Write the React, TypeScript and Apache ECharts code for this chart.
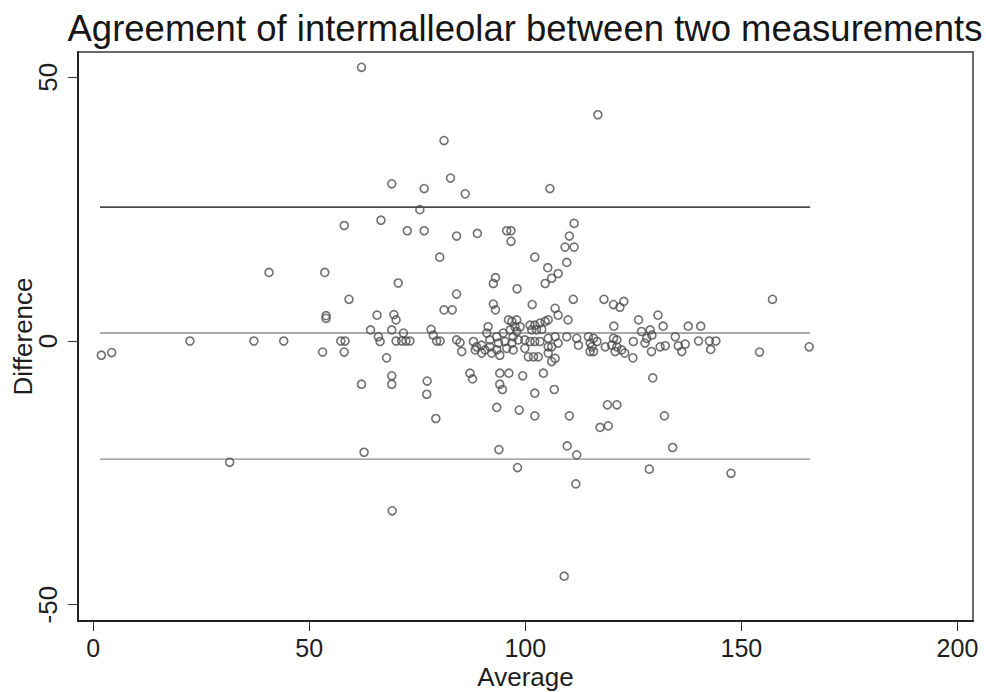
import React, { useEffect, useRef } from "react";
import * as echarts from "echarts";

const titleText = "Agreement of intermalleolar between two measurements";
const xAxisName = "Average";
const yAxisName = "Difference";
const xTickValues = [0, 50, 100, 150, 200];
const yTickValues = [-50, 0, 50];

const averageValues = [
  1.9, 4.3, 22.4, 31.6, 37.2, 40.7, 44.1, 53.1, 53.6, 53.9, 53.9, 57.3, 58.3, 58.1, 58.1, 59.2, 62.1, 62.1, 62.7, 64.2,
  65.7, 66.0, 66.4, 66.6, 67.9, 69.1, 69.1, 69.6, 70.1, 69.1, 69.1, 69.2, 70.1, 71.4, 72.4, 73.3, 70.6, 71.8, 72.7, 75.6,
  76.6, 76.6, 77.3, 77.2, 78.2, 78.7, 79.5, 80.3, 79.3, 80.2, 81.2, 81.2, 83.1, 82.7, 84.1, 84.1, 84.1, 84.9, 85.3, 86.1,
  87.2, 87.8, 88.0, 88.7, 88.4, 88.9, 89.9, 90.7, 89.9, 91.4, 91.1, 91.8, 91.8, 92.2, 92.6, 93.1, 93.1, 92.6, 93.4, 93.8,
  93.4, 94.1, 94.1, 94.1, 94.7, 93.4, 93.9, 94.9, 95.3, 95.7, 95.7, 96.7, 96.7, 96.1, 96.9, 96.5, 97.2, 96.9, 97.2, 96.2,
  97.6, 98.0, 98.8, 98.0, 98.4, 98.1, 98.2, 98.6, 99.4, 99.9, 99.9, 100.7, 101.1, 101.5, 101.6, 101.1, 101.9, 102.2, 102.6, 102.2,
  102.2, 102.2, 102.2, 103.0, 103.4, 103.8, 103.4, 104.2, 104.6, 104.6, 105.3, 105.3, 105.3, 105.3, 105.2, 105.7, 106.1, 106.1, 106.1, 106.9,
  106.9, 106.9, 107.6, 107.6, 107.6, 106.7, 109.2, 109.6, 109.9, 109.6, 109.0, 109.7, 110.2, 110.2, 111.1, 111.3, 111.3, 111.9, 112.3, 111.9,
  111.7, 114.6, 115.0, 115.0, 115.8, 116.6, 115.4, 115.8, 116.8, 117.3, 118.2, 118.5, 119.2, 119.0, 120.4, 120.5, 120.4, 121.2, 120.0, 121.2,
  120.8, 121.2, 121.9, 122.8, 122.3, 123.0, 124.9, 125.0, 126.2, 126.9, 127.7, 128.1, 128.9, 129.3, 129.2, 129.5, 128.7, 130.7, 131.9, 131.2,
  132.4, 132.2, 134.7, 134.1, 135.4, 136.2, 137.0, 137.7, 140.6, 140.1, 142.6, 144.1, 142.9, 147.6, 154.2, 157.2, 165.7,
];

const differenceValues = [
  -2.7, -2.2, 0, -23.0, 0, 13.0, 0, -2.1, 13.0, 4.3, 4.8, 0, 0, -2.1, 21.9, 7.9, 51.9, -8.2, -21.1, 2.1,
  4.9, 0.8, -0.1, 22.9, -3.2, 29.8, 2.1, 5.0, 4.0, -6.6, -8.2, -32.2, 0, 0, 0, 0, 11.0, 1.5, 20.9, 24.9,
  28.9, 20.9, -7.6, -10.1, 2.2, 1.1, 0, 0, -14.7, 15.9, 38.0, 5.9, 5.9, 30.9, 19.9, 8.9, 0.2, -0.3, -2.0, 27.9,
  -6.1, -7.2, -0.1, -1.1, -1.7, 20.4, -0.8, -1.7, -2.3, 2.7, 1.5, 0.2, -1.1, -2.3, 7.0, 5.9, 12.0, 10.9, 0.8, -0.4,
  -1.7, -2.7, -6.1, -8.2, -9.2, -12.6, -20.6, 1.5, -0.1, -1.4, 20.9, 20.9, 18.9, 4.0, 3.7, 2.1, 0.8, -0.4, -1.7, -6.1,
  2.7, 4.0, 2.7, 1.8, 0.2, 9.9, -24.0, -13.1, -6.6, 0.2, -1.4, -3.0, 3.0, 2.1, 6.9, -0.1, -3.0, 3.0, 2.1, -0.1,
  15.9, -9.9, -14.2, -3.0, 3.4, 2.2, -0.1, -6.1, 3.7, 10.9, 4.0, 0.5, -1.1, -2.3, 13.9, 28.9, 11.9, -1.1, -3.9, -3.3,
  6.2, 0.8, 4.9, -0.4, 12.8, -9.2, 17.8, 14.9, 4.0, 0.8, -44.6, -19.9, 19.9, -14.2, 7.9, 22.3, 17.8, 0.5, -0.8, -21.6,
  -27.1, 0.8, -0.4, -2.0, 0.5, -0.1, -1.1, -2.0, 42.9, -16.4, 7.9, -1.1, -16.1, -12.1, 6.9, 2.8, 0.5, 0.2, -0.8, -1.1,
  -2.0, -12.1, 6.4, 7.5, -1.7, -2.3, -3.2, -0.1, 4.0, 1.8, -0.4, 0.5, 2.1, 1.1, -2.0, -7.0, -24.3, 4.9, 2.8, -1.1,
  -0.9, -14.2, 0.8, -20.2, -0.9, -2.0, -0.6, 2.8, 2.8, 0, 0, 0, -1.6, -25.1, -2.1, 7.9, -1.1,
];

const meanDifference = 1.5;
const upperLimit = 25.4;
const lowerLimit = -22.4;

const FONT = '"Liberation Sans", Arial, sans-serif';

export default function App() {
  const ref = useRef<HTMLDivElement>(null);

  useEffect(() => {
    if (!ref.current) return;
    const chart = echarts.init(ref.current, null, { renderer: "svg" });
    const points = averageValues.map((a, i) => [a, differenceValues[i]]);
    const xLo = Math.min(...averageValues) - 0.3;
    const xHi = Math.max(...averageValues) + 0.2;
    const hLine = (v: number, color: string, width: number) => ({
      type: "line",
      data: [
        [xLo, v],
        [xHi, v],
      ],
      symbol: "none",
      silent: true,
      lineStyle: { color, width },
      z: 1,
    });

    chart.setOption({
      animation: false,
      backgroundColor: "#ffffff",
      graphic: [
        {
          type: "text",
          x: 525,
          y: 28,
          style: {
            text: titleText,
            font: `36.5px ${FONT}`,
            fill: "#161616",
            textAlign: "center",
            textVerticalAlign: "middle",
          },
        },
      ],
      grid: {
        left: 78,
        top: 52,
        right: 13,
        bottom: 71,
        show: true,
        borderColor: "#6a6a6a",
        borderWidth: 2,
        backgroundColor: "#ffffff",
        containLabel: false,
        outerBoundsMode: "none",
      },
      xAxis: {
        type: "value",
        min: -3.5,
        max: 203.6,
        name: xAxisName,
        nameLocation: "middle",
        nameGap: 46,
        nameMoveOverlap: false,
        nameTextStyle: { fontSize: 26, lineHeight: 20, color: "#1e1e1e", fontFamily: FONT },
        axisLine: { show: true, onZero: false, lineStyle: { color: "#222", width: 2 } },
        axisTick: {
          show: true,
          customValues: xTickValues,
          length: 10,
          lineStyle: { color: "#333", width: 1 },
        },
        axisLabel: {
          customValues: xTickValues,
          fontSize: 25,
          lineHeight: 20,
          color: "#1e1e1e",
          fontFamily: FONT,
          margin: 17,
        },
        splitLine: { show: false },
      },
      yAxis: {
        type: "value",
        min: -53.1,
        max: 54.8,
        name: yAxisName,
        nameLocation: "middle",
        nameGap: 42,
        nameMoveOverlap: false,
        nameRotate: 90,
        nameTextStyle: { fontSize: 26, color: "#1e1e1e", fontFamily: FONT },
        axisLine: { show: true, onZero: false, lineStyle: { color: "#222", width: 2 } },
        axisTick: {
          show: true,
          customValues: yTickValues,
          length: 10,
          lineStyle: { color: "#333", width: 1 },
        },
        axisLabel: {
          customValues: yTickValues,
          rotate: 90,
          fontSize: 26,
          color: "#1e1e1e",
          fontFamily: FONT,
          margin: 17,
        },
        splitLine: { show: false },
      },
      series: [
        hLine(upperLimit, "#4a4a4a", 1.8),
        hLine(meanDifference, "#8c8c8c", 1.4),
        hLine(lowerLimit, "#8c8c8c", 1.4),
        {
          type: "scatter",
          data: points,
          symbol: "circle",
          symbolSize: 8,
          itemStyle: {
            color: "rgba(255,255,255,0)",
            borderColor: "#4e4e4e",
            borderWidth: 1.6,
          },
          z: 3,
        },
      ],
    });

    return () => {
      chart.dispose();
    };
  }, []);

  return (
    <div
      ref={ref}
      style={{ position: "absolute", left: 0, top: 0, width: 986, height: 692, background: "#fff" }}
    />
  );
}
